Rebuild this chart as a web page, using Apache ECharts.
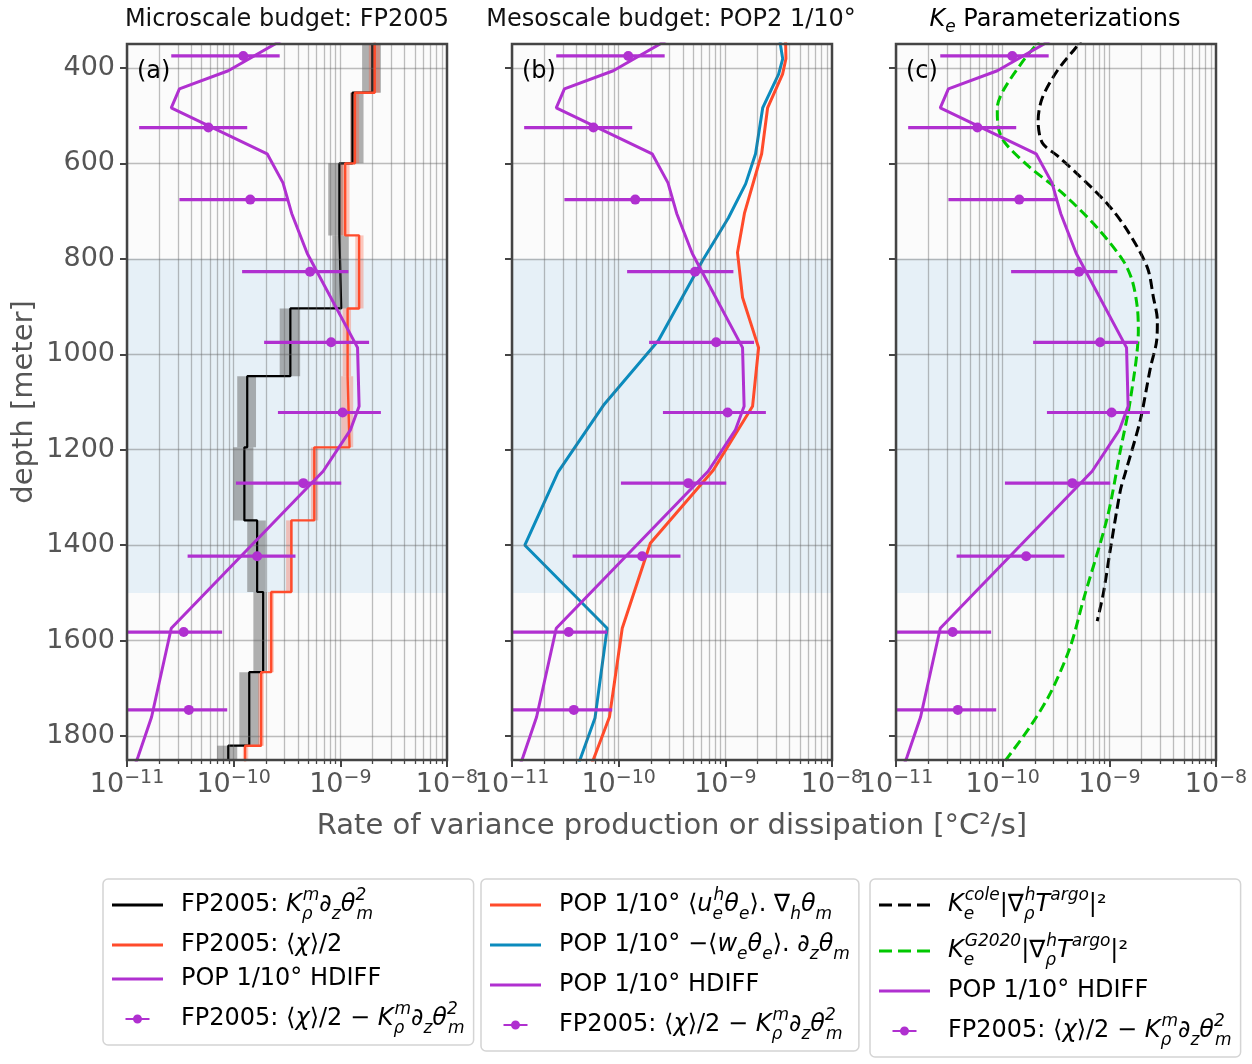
<!DOCTYPE html>
<html>
<head>
<meta charset="utf-8">
<script src="https://cdn.jsdelivr.net/npm/echarts@6/dist/echarts.min.js"></script>
<style>
  html, body { margin: 0; padding: 0; background: #fff; }
  #main { width: 1252px; height: 1064px; }
</style>
</head>
<body>
<div id="main"></div>
<script>
var FONT = 'DejaVu Sans';

// ---- data (depth in m, rates in °C²/s) ----
// FP2005 depth bins (edges)
var binEdges = [300, 452, 600, 751, 904, 1046, 1195, 1348, 1498, 1666, 1820, 1900];
var fpK   = [2.0e-9, 1.3e-9, 9.8e-10, 1.02e-9, 3.4e-10, 1.34e-10, 1.26e-10, 1.66e-10, 1.89e-10, 1.4e-10, 8.9e-11];
var fpKLo = [1.6e-9, 1.24e-9, 7.7e-10, 8.4e-10, 2.7e-10, 1.08e-10, 9.9e-11, 1.34e-10, 1.53e-10, 1.13e-10, 7.0e-11];
var fpKHi = [2.4e-9, 1.65e-9, 1.07e-9, 1.2e-9, 4.2e-10, 1.62e-10, 1.53e-10, 2.0e-10, 2.05e-10, 1.74e-10, 1.08e-10];
var fpChi   = [2.1e-9, 1.37e-9, 1.11e-9, 1.5e-9, 1.17e-9, 1.22e-9, 5.7e-10, 3.47e-10, 2.25e-10, 1.81e-10, 1.28e-10];
var fpChiLo = [1.85e-9, 1.25e-9, 1.0e-9, 1.38e-9, 1.05e-9, 1.02e-9, 5.3e-10, 3.1e-10, 2.1e-10, 1.7e-10, 1.22e-10];
var fpChiHi = [2.35e-9, 1.5e-9, 1.22e-9, 1.65e-9, 1.26e-9, 1.32e-9, 6.2e-10, 3.6e-10, 2.38e-10, 1.92e-10, 1.37e-10];

// POP 1/10 HDIFF
var hdiffDepth = [330, 406, 444, 484, 580, 641, 705, 789, 986, 1109, 1159, 1245, 1574, 1760, 1843, 1900];
var hdiffVal = [3.5e-10, 8.9e-11, 3.1e-11, 2.6e-11, 2.06e-10, 2.9e-10, 3.5e-10, 4.9e-10, 1.45e-9, 1.5e-9, 1.24e-9, 6.9e-10, 2.6e-11, 1.7e-11, 1.27e-11, 1.02e-11];

// FP2005: chi/2 - K dz theta^2 (with error bars)
var ebDepth = [375, 525, 676, 827, 975, 1122, 1270, 1423, 1582, 1745];
var ebVal = [1.23e-10, 5.8e-11, 1.43e-10, 5.2e-10, 8.2e-10, 1.05e-9, 4.5e-10, 1.66e-10, 3.4e-11, 3.8e-11];
var ebLo  = [2.6e-11, 1.3e-11, 3.1e-11, 1.2e-10, 1.93e-10, 2.6e-10, 1.05e-10, 3.7e-11, 7e-12, 8e-12];
var ebHi  = [2.7e-10, 1.34e-10, 3.2e-10, 1.19e-9, 1.86e-9, 2.4e-9, 1.02e-9, 3.8e-10, 7.8e-11, 8.7e-11];

// POP horizontal eddy production
var advDepth = [330, 354, 381, 413, 484, 580, 705, 787, 881, 986, 1109, 1243, 1396, 1574, 1760, 1900];
var advVal = [3.65e-9, 3.68e-9, 3.7e-9, 3.44e-9, 2.49e-9, 2.19e-9, 1.51e-9, 1.3e-9, 1.45e-9, 2.05e-9, 1.8e-9, 7.7e-10, 1.98e-10, 1.08e-10, 8.2e-11, 4.75e-11];
// POP vertical eddy production
var vertDepth = [330, 354, 381, 413, 484, 580, 643, 714, 804, 971, 1107, 1247, 1400, 1574, 1762, 1900];
var vertVal = [3.2e-9, 3.3e-9, 3.45e-9, 3.16e-9, 2.24e-9, 1.92e-9, 1.55e-9, 1.07e-9, 6.1e-10, 2.36e-10, 7.2e-11, 2.7e-11, 1.32e-11, 7.8e-11, 6.0e-11, 3.6e-11];

// Ke parameterizations
var coleDepth = [330, 354, 406, 463, 511, 557, 584, 622, 685, 741, 818, 881, 929, 971, 1028, 1138, 1249, 1285, 1410, 1500, 1559];
var coleVal = [6.0e-10, 5.0e-10, 3.25e-10, 2.35e-10, 2.15e-10, 2.35e-10, 3.25e-10, 5.0e-10, 9.6e-10, 1.48e-9, 2.27e-9, 2.59e-9, 2.82e-9, 2.78e-9, 2.43e-9, 1.95e-9, 1.41e-9, 1.27e-9, 1.02e-9, 8.8e-10, 7.7e-10];
var g2020Depth = [330, 354, 385, 448, 484, 525, 557, 609, 664, 735, 804, 846, 902, 950, 1097, 1201, 1341, 1515, 1613, 1710, 1780, 1843, 1900];
var g2020Val = [2.4e-10, 2.02e-10, 1.56e-10, 1.01e-10, 8.9e-11, 9.1e-11, 1.05e-10, 1.81e-10, 3.7e-10, 7.7e-10, 1.35e-9, 1.64e-9, 1.83e-9, 1.87e-9, 1.57e-9, 1.27e-9, 9.6e-10, 5.7e-10, 4.3e-10, 2.8e-10, 1.81e-10, 1.13e-10, 7.3e-11];

// axes
var xDecades = [1e-11, 1e-10, 1e-9, 1e-8];
var yTicks = [400, 600, 800, 1000, 1200, 1400, 1600, 1800];
var yMin = 350, yMax = 1850;
var bandTop = 800, bandBottom = 1500;

// colours
var cPurple = '#b030d0', cRed = '#ff4b2b', cBlue = '#0b8bbd', cGreen = '#00c800';

// series names
var nK = 'fpK', nChi = 'fpChi', nHd = 'hdiff', nEb = 'fpDiff', nAdv = 'popAdv', nVert = 'popVert', nCole = 'kCole', nG = 'kG2020';
var legendText = {};
legendText[nK] = '{n|FP2005: }{i|K}{sbn|ρ}{sp|m}{i|∂}{sb|z}{i|θ}{spn|2}{sb|m}';
legendText[nChi] = '{n|FP2005: ⟨}{i|χ}{n|⟩/2}';
legendText[nHd] = '{n|POP 1/10° HDIFF}';
legendText[nEb] = '{n|FP2005: ⟨}{i|χ}{n|⟩/2 − }{i|K}{sbn|ρ}{sp|m}{i|∂}{sb|z}{i|θ}{spn|2}{sb|m}';
legendText[nAdv] = '{n|POP 1/10° ⟨}{i|u}{sbn|e}{sp|h}{i|θ}{sb|e}{n|⟩. ∇}{sb|h}{i|θ}{sb|m}';
legendText[nVert] = '{n|POP 1/10° −⟨}{i|w}{sb|e}{i|θ}{sb|e}{n|⟩. }{i|∂}{sb|z}{i|θ}{sb|m}';
legendText[nCole] = '{i|K}{sbn|e}{sp|cole}{n||∇}{sbn|ρ}{sp|h}{i|T}{sp|argo}{n||²}';
legendText[nG] = '{i|K}{sbn|e}{sp|G2020}{n||∇}{sbn|ρ}{sp|h}{i|T}{sp|argo}{n||²}';

var mathRich = {
  n: { fontFamily: FONT, fontSize: 24, lineHeight: 36, color: '#000' },
  i: { fontFamily: FONT, fontSize: 24, lineHeight: 36, color: '#000', fontStyle: 'italic' },
  sp: { fontFamily: FONT, fontSize: 17, lineHeight: 20, color: '#000', fontStyle: 'italic', verticalAlign: 'top' },
  spn: { fontFamily: FONT, fontSize: 17, lineHeight: 20, color: '#000', fontStyle: 'italic', verticalAlign: 'top', width: 1 },
  sb: { fontFamily: FONT, fontSize: 17, lineHeight: 18, color: '#000', fontStyle: 'italic', verticalAlign: 'bottom' },
  sbn: { fontFamily: FONT, fontSize: 17, lineHeight: 18, color: '#000', fontStyle: 'italic', verticalAlign: 'bottom', width: 1 }
};

function pairs(vals, depths) {
  return vals.map(function (v, i) { return [v, depths[i]]; });
}
function stepPoints(vals) {
  var pts = [];
  for (var i = 0; i < vals.length; i++) {
    pts.push([vals[i], binEdges[i]], [vals[i], binEdges[i + 1]]);
  }
  return pts;
}
function bandRects(lo, hi) {
  return lo.map(function (v, i) { return [v, hi[i], binEdges[i], binEdges[i + 1]]; });
}

// log grid positions 1..9 x 10^n
var xGridLines = [];
for (var d = 0; d < 3; d++) {
  for (var k = 1; k <= 9; k++) xGridLines.push(k * xDecades[d]);
}
var xMinor = xGridLines.filter(function (v, i) { return i % 9 !== 0; });

function renderBand(params, api) {
  var p1 = api.coord([api.value(0), api.value(2)]);
  var p2 = api.coord([api.value(1), api.value(3)]);
  var cs = params.coordSys;
  var shape = echarts.graphic.clipRectByRect({
    x: Math.min(p1[0], p2[0]), y: Math.min(p1[1], p2[1]),
    width: Math.abs(p2[0] - p1[0]), height: Math.abs(p2[1] - p1[1])
  }, { x: cs.x, y: cs.y, width: cs.width, height: cs.height });
  return shape && { type: 'rect', shape: shape, style: api.style() };
}
function renderErrBar(params, api) {
  var cs = params.coordSys;
  var p1 = api.coord([api.value(0), api.value(2)]);
  var p2 = api.coord([api.value(1), api.value(2)]);
  return {
    type: 'line',
    shape: { x1: Math.max(p1[0], cs.x), y1: p1[1], x2: Math.min(p2[0], cs.x + cs.width), y2: p2[1] },
    style: { stroke: cPurple, lineWidth: 3.2 }
  };
}

var gridLeft = [127, 512, 896];
var grids = [], xAxes = [], yAxes = [], series = [];

for (var g = 0; g < 3; g++) {
  grids.push({ left: gridLeft[g], top: 44, width: 320, height: 716, show: true, borderColor: '#444', borderWidth: 2.5, z: 10, backgroundColor: 'transparent', outerBoundsMode: 'none' });
  xAxes.push({
    gridIndex: g, type: 'log', logBase: 10, min: 1e-11, max: 1e-8, position: 'bottom',
    axisLine: { show: false },
    axisTick: { show: true, length: 7, lineStyle: { color: '#444', width: 2 }, customValues: xDecades },
    axisLabel: {
      margin: 9, customValues: xDecades,
      formatter: function (v) { return '{b|10}{s|−' + Math.abs(Math.round(Math.log10(v))) + '}'; },
      rich: {
        b: { fontFamily: FONT, fontSize: 27, color: '#555', lineHeight: 32 },
        s: { fontFamily: FONT, fontSize: 19, color: '#555', lineHeight: 18, verticalAlign: 'top' }
      }
    },
    splitLine: { show: false },
    name: g === 1 ? 'Rate of variance production or dissipation [°C²/s]' : '',
    nameLocation: 'middle', nameGap: 52,
    nameTextStyle: { fontFamily: FONT, fontSize: 29, color: '#555' }
  });
  yAxes.push({
    gridIndex: g, type: 'value', inverse: true, min: yMin, max: yMax,
    axisLine: { show: false },
    axisTick: { show: true, length: 7, lineStyle: { color: '#444', width: 2 }, customValues: yTicks },
    axisLabel: {
      show: g === 0, customValues: yTicks, margin: 12, fontFamily: FONT, fontSize: 27, color: '#555',
      formatter: function (v) { return String(v); }
    },
    splitLine: { show: false },
    name: g === 0 ? 'depth [meter]' : '', nameLocation: 'middle', nameGap: 88,
    nameTextStyle: { fontFamily: FONT, fontSize: 29, color: '#555' }
  });
  // background shading
  series.push({
    type: 'line', name: 'bg' + g, xAxisIndex: g, yAxisIndex: g, data: [], z: 1, silent: true,
    markArea: {
      silent: true,
      data: [
        [{ xAxis: 1e-11, yAxis: yMin, itemStyle: { color: '#fbfbfb' } }, { xAxis: 1e-8, yAxis: bandTop }],
        [{ xAxis: 1e-11, yAxis: bandTop, itemStyle: { color: '#e6f0f7' } }, { xAxis: 1e-8, yAxis: bandBottom }],
        [{ xAxis: 1e-11, yAxis: bandBottom, itemStyle: { color: '#fbfbfb' } }, { xAxis: 1e-8, yAxis: yMax }]
      ]
    }
  });
  // grid lines
  series.push({
    type: 'line', name: 'grid' + g, xAxisIndex: g, yAxisIndex: g, data: [], z: 2, silent: true,
    markLine: {
      silent: true, symbol: ['none', 'none'], label: { show: false },
      lineStyle: { color: 'rgba(100,100,100,0.42)', width: 1.3, type: 'solid' },
      data: xGridLines.map(function (v) { return [{ coord: [v, yMin] }, { coord: [v, yMax] }]; })
        .concat(yTicks.map(function (v) { return [{ coord: [1e-11, v] }, { coord: [1e-8, v] }]; }))
    }
  });
  // HDIFF and FP2005 difference in every panel
  series.push({
    type: 'line', name: nHd, xAxisIndex: g, yAxisIndex: g, z: 6, symbol: 'none',
    lineStyle: { color: cPurple, width: 3 }, itemStyle: { color: cPurple },
    data: pairs(hdiffVal, hdiffDepth)
  });
  series.push({
    type: 'custom', name: nEb, xAxisIndex: g, yAxisIndex: g, z: 7,
    itemStyle: { color: cPurple }, renderItem: renderErrBar,
    encode: { x: [0, 1], y: 2 },
    data: ebLo.map(function (v, i) { return [v, ebHi[i], ebDepth[i]]; })
  });
  series.push({
    type: 'scatter', name: nEb, xAxisIndex: g, yAxisIndex: g, z: 8,
    symbolSize: 10, itemStyle: { color: cPurple, opacity: 1 },
    data: pairs(ebVal, ebDepth)
  });
}
// minor ticks on the log axes
for (var m = 0; m < 3; m++) {
  xAxes.push({
    gridIndex: m, type: 'log', logBase: 10, min: 1e-11, max: 1e-8, position: 'bottom',
    axisLine: { show: false }, axisLabel: { show: false }, splitLine: { show: false },
    axisTick: { show: true, length: 4, lineStyle: { color: '#444', width: 1.3 }, customValues: xMinor }
  });
}

// panel (a)
series.push({
  type: 'custom', name: 'fpKband', xAxisIndex: 0, yAxisIndex: 0, z: 3,
  itemStyle: { color: 'rgba(105,105,105,0.52)' }, renderItem: renderBand,
  encode: { x: [0, 1], y: [2, 3] }, data: bandRects(fpKLo, fpKHi)
});
series.push({
  type: 'custom', name: 'fpChiband', xAxisIndex: 0, yAxisIndex: 0, z: 3,
  itemStyle: { color: 'rgba(255,75,43,0.3)' }, renderItem: renderBand,
  encode: { x: [0, 1], y: [2, 3] }, data: bandRects(fpChiLo, fpChiHi)
});
series.push({
  type: 'line', name: nK, xAxisIndex: 0, yAxisIndex: 0, z: 4, symbol: 'none',
  lineStyle: { color: '#000', width: 2.2 }, itemStyle: { color: '#000' },
  data: stepPoints(fpK)
});
series.push({
  type: 'line', name: nChi, xAxisIndex: 0, yAxisIndex: 0, z: 5, symbol: 'none',
  lineStyle: { color: cRed, width: 2.4 }, itemStyle: { color: cRed },
  data: stepPoints(fpChi)
});

// panel (b)
series.push({
  type: 'line', name: nVert, xAxisIndex: 1, yAxisIndex: 1, z: 4, symbol: 'none',
  lineStyle: { color: cBlue, width: 3 }, itemStyle: { color: cBlue },
  data: pairs(vertVal, vertDepth)
});
series.push({
  type: 'line', name: nAdv, xAxisIndex: 1, yAxisIndex: 1, z: 5, symbol: 'none',
  lineStyle: { color: cRed, width: 3 }, itemStyle: { color: cRed },
  data: pairs(advVal, advDepth)
});

// panel (c)
series.push({
  type: 'line', name: nCole, xAxisIndex: 2, yAxisIndex: 2, z: 4, symbol: 'none', smooth: 0.3,
  lineStyle: { color: '#000', width: 3, type: [10, 5] }, itemStyle: { color: '#000' },
  data: pairs(coleVal, coleDepth)
});
series.push({
  type: 'line', name: nG, xAxisIndex: 2, yAxisIndex: 2, z: 5, symbol: 'none', smooth: 0.3,
  lineStyle: { color: cGreen, width: 3, type: [10, 5] }, itemStyle: { color: cGreen },
  data: pairs(g2020Val, g2020Depth)
});

var ebIcon = 'path://M0,4 L24,4 L24,6.2 L0,6.2 Z M12,0.6 A4.5,4.5 0 1,1 11.99,0.6 Z';
var lineIcon = 'path://M0,0 L51,0 L51,3 L0,3 Z';
var dashIcon = 'path://M0,0 h13 v3 h-13 Z M19,0 h13 v3 h-13 Z M38,0 h13 v3 h-13 Z';

function makeLegend(left, names, textWidth) {
  return {
    orient: 'vertical', left: left, top: 879, height: 185,
    itemWidth: 51, itemHeight: 9, itemGap: 10,
    padding: [8, 9, 8, 9],
    backgroundColor: '#fff', borderColor: '#d4d4d4', borderWidth: 1.5, borderRadius: 5,
    selectedMode: false,
    data: names.map(function (n) {
      if (n === nEb) return { name: n, icon: ebIcon };
      if (n === nCole || n === nG) return { name: n, icon: dashIcon };
      return { name: n, icon: lineIcon };
    }),
    formatter: function (name) { return legendText[name]; },
    textStyle: { width: textWidth, padding: [0, 0, 0, 13], rich: mathRich }
  };
}

var option = {
  animation: false,
  backgroundColor: '#fff',
  grid: grids,
  xAxis: xAxes,
  yAxis: yAxes,
  legend: [
    makeLegend(103, [nK, nChi, nHd, nEb], 283),
    makeLegend(481, [nAdv, nVert, nHd, nEb], 294),
    makeLegend(870, [nCole, nG, nHd, nEb], 285)
  ],
  graphic: [
    { type: 'text', x: 287, y: 20, style: { text: 'Microscale budget: FP2005', align: 'center', verticalAlign: 'middle', font: '24px "DejaVu Sans"', fill: '#111' } },
    { type: 'text', x: 671, y: 20, style: { text: 'Mesoscale budget: POP2 1/10°', align: 'center', verticalAlign: 'middle', font: '24px "DejaVu Sans"', fill: '#111' } },
    { type: 'text', x: 1055, y: 20, style: {
      text: '{i|K}{sb|e}{n| Parameterizations}', align: 'center', verticalAlign: 'middle',
      rich: {
        n: { fontFamily: FONT, fontSize: 24, lineHeight: 32, color: '#111' },
        i: { fontFamily: FONT, fontSize: 24, lineHeight: 32, color: '#111', fontStyle: 'italic' },
        sb: { fontFamily: FONT, fontSize: 17, lineHeight: 18, color: '#111', fontStyle: 'italic', verticalAlign: 'bottom' }
      } } },
    { type: 'text', x: 137, y: 72, z: 20, style: { text: '(a)', verticalAlign: 'middle', font: '24px "DejaVu Sans"', fill: '#000' } },
    { type: 'text', x: 522, y: 72, z: 20, style: { text: '(b)', verticalAlign: 'middle', font: '24px "DejaVu Sans"', fill: '#000' } },
    { type: 'text', x: 906, y: 72, z: 20, style: { text: '(c)', verticalAlign: 'middle', font: '24px "DejaVu Sans"', fill: '#000' } }
  ],
  series: series
};

var chart = echarts.init(document.getElementById('main'), null, { renderer: 'canvas' });
chart.setOption(option);
</script>
</body>
</html>
